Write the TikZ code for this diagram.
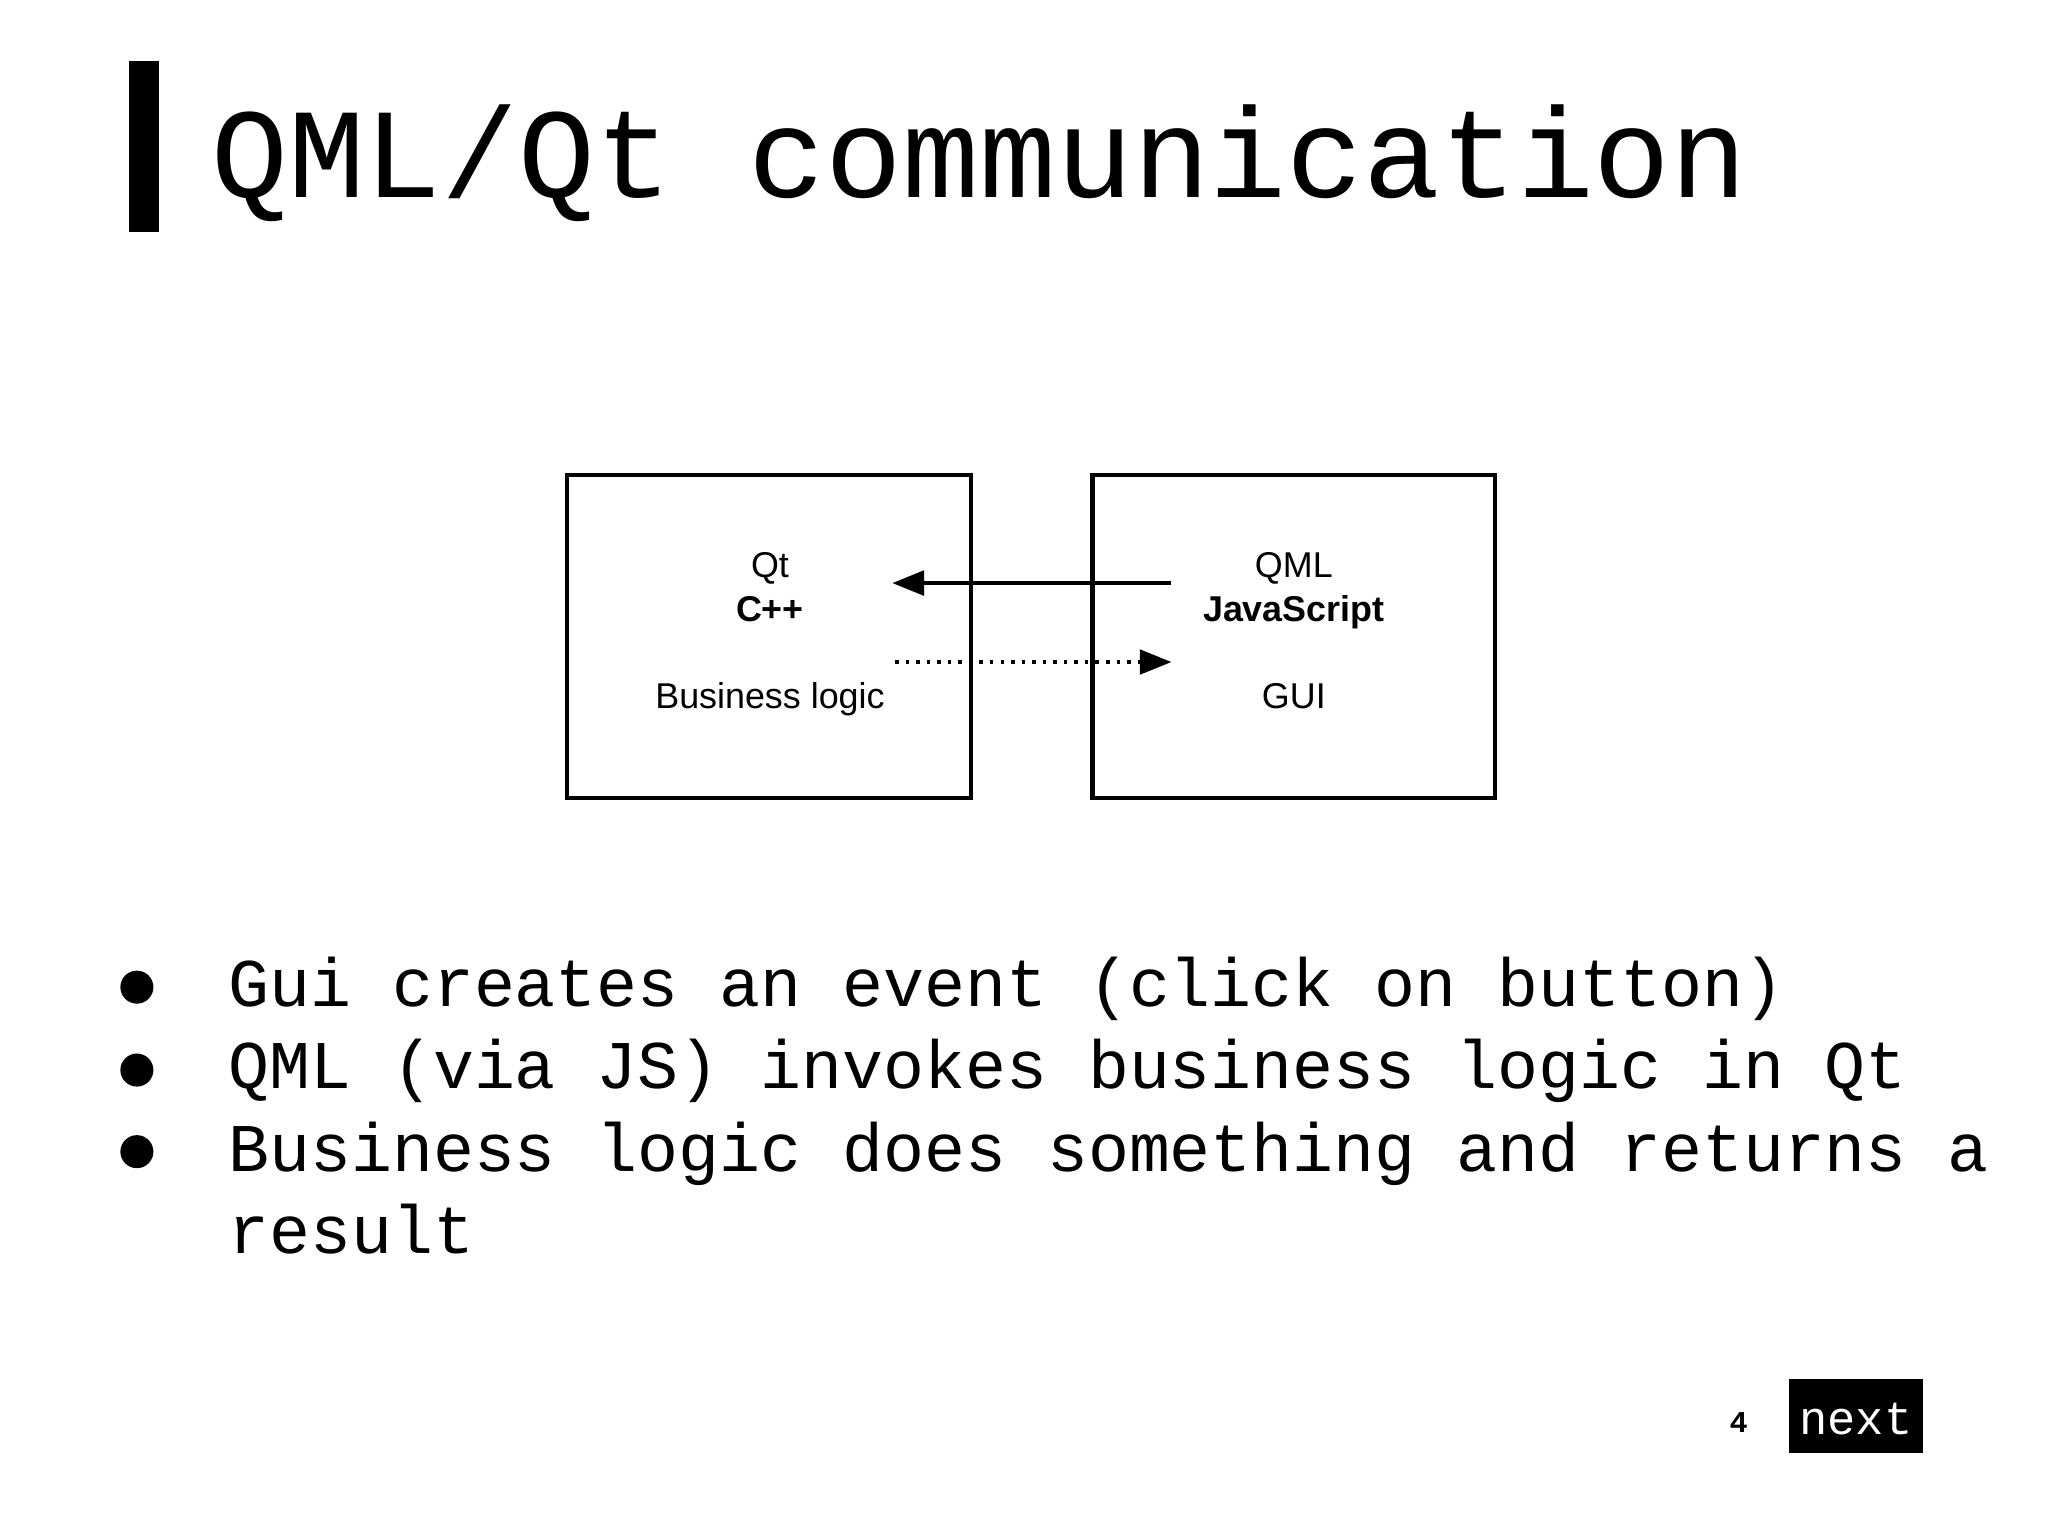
\documentclass[tikz,border=0pt]{standalone}
\usepackage{fontspec}
\setmainfont{Liberation Mono}
\newfontfamily\boxfont{Liberation Sans}
\usetikzlibrary{arrows.meta}
\begin{document}
\begin{tikzpicture}[x=0.01316cm,y=-0.01316cm,
  panel/.style={draw,line width=1.2pt},
  boxtxt/.style={font=\boxfont\fontsize{10.2}{12}\selectfont,anchor=base,inner sep=0},
  bul/.style={font=\fontsize{19.4}{23}\selectfont,anchor=base west,inner sep=0},
  dotb/.style={fill=black,circle,minimum size=0.33cm,inner sep=0}]
\useasboundingbox (0,0) rectangle (1556,1167);
\fill (98,46) rectangle (121,176);
\node[anchor=base west,inner sep=0,font=\fontsize{36.4}{40}\selectfont] (title) at (160,150) {QML/Qt communication};
\draw[panel] (431,361) rectangle (738,606);
\draw[panel] (830,361) rectangle (1136,606);
\node[boxtxt] (qt) at (585,439) {Qt};
\node[boxtxt] (cpp) at (585,472) {\bfseries C++};
\node[boxtxt] (bl) at (585,538) {Business logic};
\node[boxtxt] (qml) at (983,439) {QML};
\node[boxtxt] (js) at (983,472) {\bfseries JavaScript};
\node[boxtxt] (gui) at (983,538) {GUI};
\coordinate (a1) at (890,443); \coordinate (a2) at (678,443);
\coordinate (b1) at (680,503); \coordinate (b2) at (890,503);
\draw[line width=1pt,-{Triangle[length=9pt,width=7pt]}] (a1) -- (a2);
\draw[line width=1pt,dotted,-{Triangle[length=9pt,width=7pt]}] (b1) -- (b2);
\node[dotb] (d1) at (104,750) {};
\node[dotb] (d2) at (104,813) {};
\node[dotb] (d3) at (104,875) {};
\node[bul] (t1) at (173,765) {Gui creates an event (click on button)};
\node[bul] (t2) at (173,827) {QML (via JS) invokes business logic in Qt};
\node[bul] (t3) at (173,890) {Business logic does something and returns a};
\node[bul] (t4) at (173,952) {result};
\node[anchor=center,inner sep=0,font=\bfseries\fontsize{8.6}{10}\selectfont] (pg) at (1321,1081) {4};
\fill (1359,1048) rectangle (1461,1104);
\node[anchor=center,inner sep=0,text=white,font=\fontsize{13.4}{16}\selectfont] (nx) at (1410,1078) {next};
\end{tikzpicture}
\end{document}
